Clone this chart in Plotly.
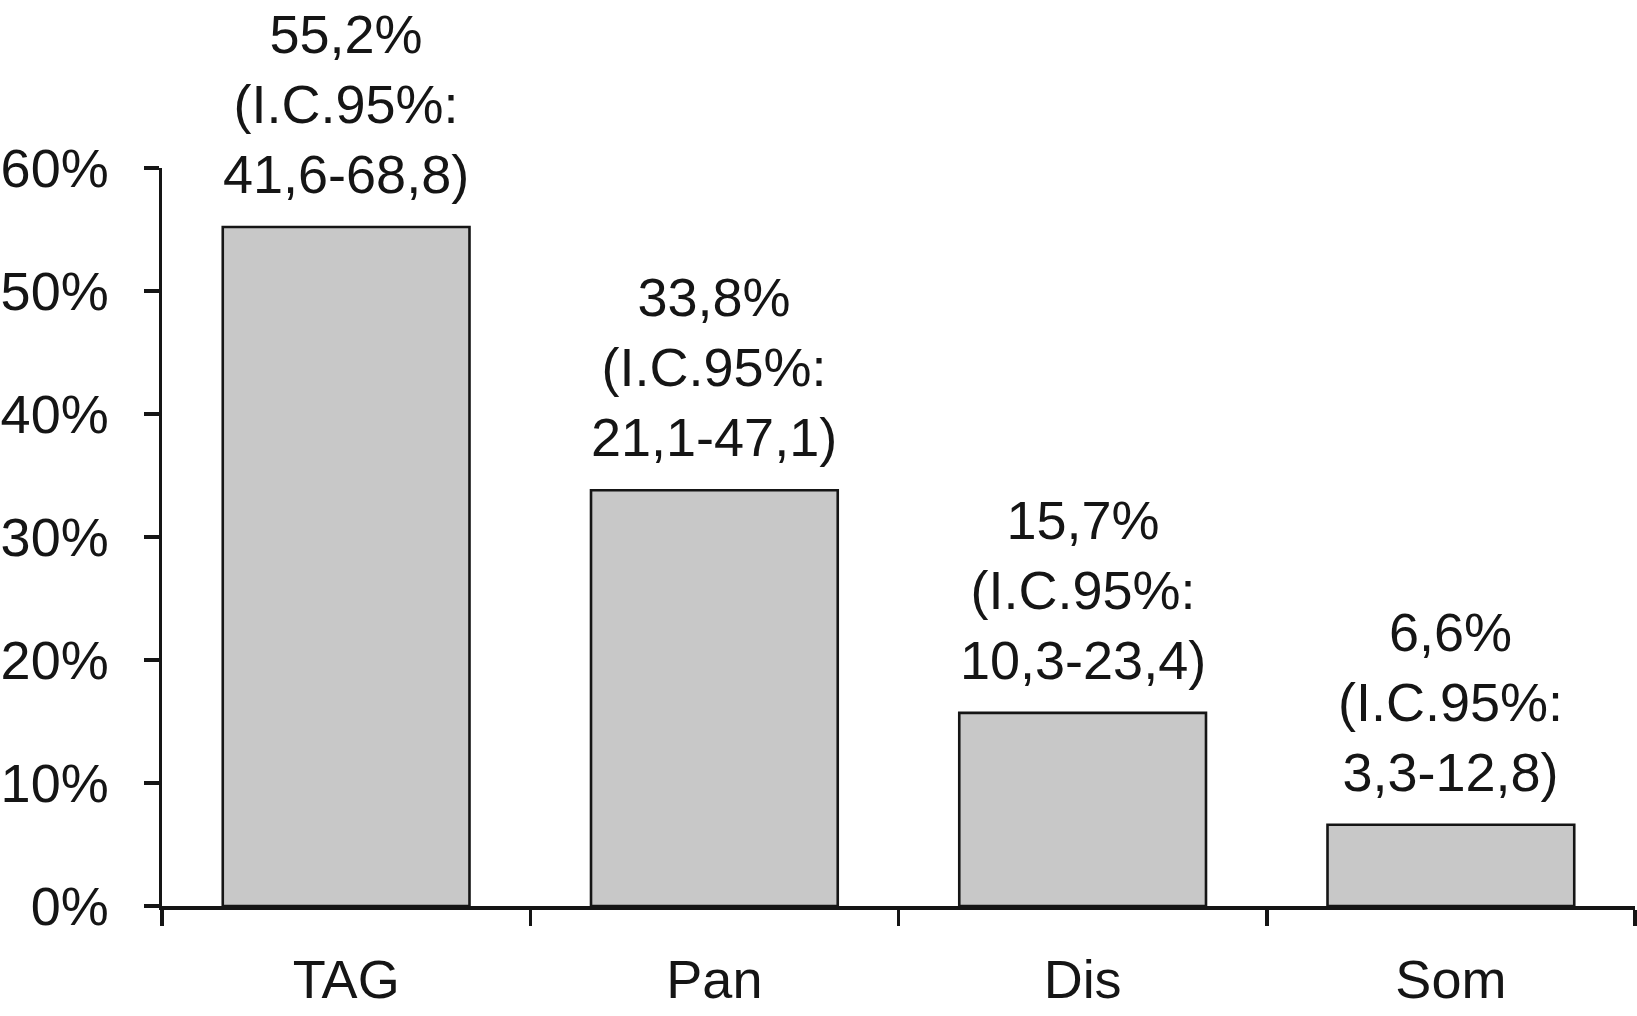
import plotly.graph_objects as go

categories = ["TAG", "Pan", "Dis", "Som"]
values = [55.2, 33.8, 15.7, 6.6]
value_labels = ["55,2%", "33,8%", "15,7%", "6,6%"]
ci_labels = ["41,6-68,8)", "21,1-47,1)", "10,3-23,4)", "3,3-12,8)"]
y_ticks = [0, 10, 20, 30, 40, 50, 60]
y_tick_labels = ["0%", "10%", "20%", "30%", "40%", "50%", "60%"]

FONT = "Liberation Sans, Arial, sans-serif"
FS = 54
INK = "#151515"

fig = go.Figure()
fig.add_trace(go.Bar(
    x=categories, y=values,
    marker=dict(color="#c8c8c8", line=dict(color=INK, width=2.6)),
    width=0.67,
    hoverinfo="skip",
))

for c, v, vl, ci in zip(categories, values, value_labels, ci_labels):
    fig.add_annotation(
        x=c, y=v, xref="x", yref="y",
        text=f"{vl}<br>(I.C.95%:<br>{ci}",
        showarrow=False, yanchor="bottom", yshift=21,
        font=dict(family=FONT, size=FS, color=INK),
        align="center",
    )

fig.update_layout(
    width=1637, height=1016,
    margin=dict(l=162, r=2, t=168, b=110),
    paper_bgcolor="white", plot_bgcolor="white",
    showlegend=False,
    font=dict(family=FONT, size=FS, color=INK),
)
fig.update_xaxes(
    automargin=False,
    showline=True, linecolor=INK, linewidth=3.5,
    ticks="outside", tickson="boundaries", ticklen=16, tickwidth=3.5, tickcolor=INK,
    showgrid=False, zeroline=False,
    tickfont=dict(family=FONT, size=FS, color=INK),
    ticklabelstandoff=24,
    range=[-0.5, 3.5],
)
fig.update_yaxes(
    automargin=False,
    range=[0, 60],
    tickvals=y_ticks, ticktext=y_tick_labels,
    showline=True, linecolor=INK, linewidth=3.5,
    ticks="outside", ticklen=15, tickwidth=3.5, tickcolor=INK,
    showgrid=False, zeroline=False,
    tickfont=dict(family=FONT, size=FS, color=INK),
    ticklabelstandoff=24,
)

fig.write_html(
    "out.html",
    config={"displayModeBar": False, "staticPlot": True},
    post_script="document.body.style.margin='0';document.body.style.overflow='hidden';",
)
